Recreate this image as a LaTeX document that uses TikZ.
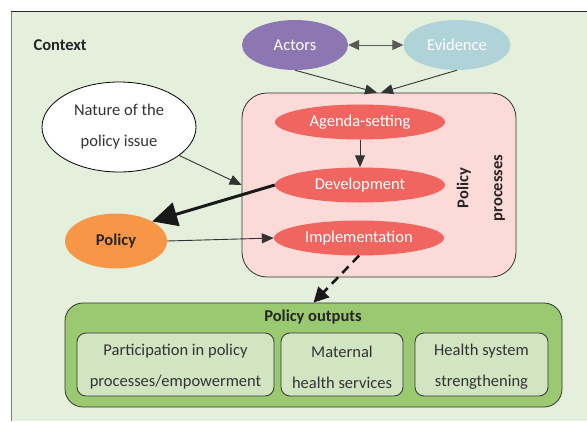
\documentclass[tikz,border=0pt]{standalone}
\usepackage{fontspec}
\setmainfont{Carlito}
\usetikzlibrary{arrows.meta,shapes.geometric}
\definecolor{ctxbg}{HTML}{E5F0DC}
\definecolor{actc}{HTML}{8C77B3}
\definecolor{evic}{HTML}{AFD3D9}
\definecolor{procc}{HTML}{F0655F}
\definecolor{pinkc}{HTML}{FCDAD8}
\definecolor{polc}{HTML}{F79646}
\definecolor{outc}{HTML}{9BC971}
\definecolor{innc}{HTML}{D2E5C3}
\definecolor{txtc}{HTML}{333333}
\tikzset{
  txt/.style={font=\fontsize{16.5}{31}\selectfont, text=txtc},
  oval/.style={ellipse, inner sep=0pt, txt},
  procov/.style={oval, fill=procc, text=white, minimum width=170, minimum height=35},
  innbox/.style={draw=txtc, fill=innc, rounded corners=9, line width=0.8pt, minimum height=63, inner sep=0pt},
  inntxt/.style={txt, align=center},
  thin/.style={draw=txtc, line width=0.9pt, -{Triangle[length=12,width=10]}}
}
\begin{document}
\begin{tikzpicture}[x=1pt,y=-1pt]
\useasboundingbox (0,0) rectangle (587,421);
\fill[ctxbg] (11,11) rectangle (587,421);
\draw[gray, line width=1pt] (11,421) -- (11,11);
\draw[black!85, line width=1pt] (11,11) -- (587,11);
\node[txt, font=\fontsize{16.5}{20}\selectfont\bfseries, text=black!85, anchor=west] (ctx) at (30,45) {Context};
\node[oval, fill=actc, text=white, minimum width=106, minimum height=50] (act) at (295,45) {Actors};
\node[oval, fill=evic, text=white, minimum width=107, minimum height=50] (evi) at (457,45) {Evidence};
\node[draw=txtc, fill=pinkc, rounded corners=25, line width=0.8pt, minimum width=274, minimum height=184, inner sep=0pt] (pink) at (379,185) {};
\node[procov] (agd) at (360,122) {Agenda-setting};
\node[procov] (dev) at (360,185) {Development};
\node[procov] (imp) at (359,238) {Implementation};
\node[txt, font=\fontsize{16.5}{34}\selectfont\bfseries, text=black!85, align=center, rotate=90] (pp) at (481,188) {Policy\\processes};
\node[oval, draw=black, fill=white, line width=0.8pt, minimum width=154, minimum height=90, align=center] (nat) at (119,127) {Nature of the\\policy issue};
\node[oval, fill=polc, minimum width=102, minimum height=55, font=\fontsize{16.5}{20}\selectfont\bfseries, text=black!85] (pol) at (116,241) {Policy};
\node[draw=txtc, fill=outc, rounded corners=18, line width=0.8pt, minimum width=497, minimum height=104, inner sep=0pt] (out) at (313.5,355) {};
\node[txt, font=\fontsize{16.5}{20}\selectfont\bfseries, text=black!85] (outt) at (313,317) {Policy outputs};
\node[innbox, minimum width=197] (o1) at (175.5,364.5) {};
\node[innbox, minimum width=122] (o2) at (342,364.5) {};
\node[innbox, minimum width=133] (o3) at (481.5,364.5) {};
\node[inntxt] (o1t) at ([yshift=-2.5]o1.center) {Participation in policy\\processes/empowerment};
\node[inntxt] (o2t) at ([yshift=-2.5]o2.center) {Maternal\\health services};
\node[inntxt] (o3t) at ([yshift=-2.5]o3.center) {Health system\\strengthening};
% connectors
\draw[draw=gray!70!black, line width=1pt, {Triangle[length=11,width=10]}-{Triangle[length=11,width=10]}] (act.east) -- (evi.west);
\draw[thin] (act.south) -- ([xshift=-2]pink.north);
\draw[thin] (evi.south) -- ([xshift=2]pink.north);
\draw[thin] (agd) -- (dev);
\draw[thin] (nat) -- (pink.west);
\draw[thin] (pol.east) -- (imp.west);
\draw[draw=black!90, line width=3pt, -{Triangle[length=25,width=24]}] (dev.west) -- (pol.north east);
\draw[draw=black!90, line width=2.6pt, dash pattern=on 9pt off 6pt, -{Triangle[length=15,width=15]}] (imp.south) -- (out.north);
\end{tikzpicture}
\end{document}
